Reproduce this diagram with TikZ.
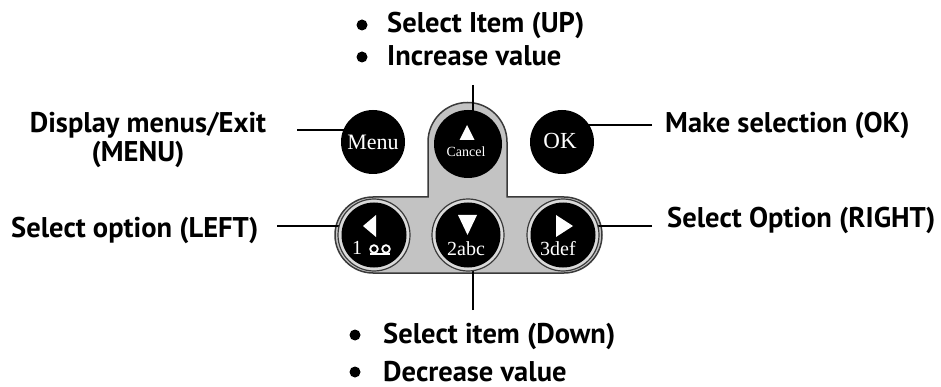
\documentclass[tikz,border=0pt]{standalone}
\usepackage{fontspec}
\setmainfont{PT Sans}
\newfontfamily\btnfont{Liberation Serif}
\definecolor{padgray}{HTML}{C3C3C3}
\definecolor{padedge}{HTML}{3A3A3A}
\definecolor{ringgray}{HTML}{DADADA}
\begin{document}
\begin{tikzpicture}[x=1pt,y=-1pt,
  lbl/.style={font=\fontsize{28.5}{28.5}\selectfont\bfseries, inner sep=0pt},
  conn/.style={line width=2.6pt, black},
  knob/.style={circle, fill=black, inner sep=0pt, minimum size=#1},
  ringk/.style={circle, fill=ringgray, draw=padedge, line width=1.2pt, inner sep=0pt, minimum size=72pt},
  bul/.style={circle, fill=black, inner sep=0pt, minimum size=11pt},
  btn/.style={text=white, font=\btnfont\fontsize{#1}{#1}\selectfont, inner sep=0pt},
]
\useasboundingbox (0,0) rectangle (941,387);

% keypad base
\draw[fill=padgray, draw=padedge, line width=1.5pt]
  (428,197) -- (428,142) arc[start angle=180, end angle=360, radius=39.5]
  -- (507,197) -- (564,197) arc[start angle=-90, end angle=90, radius=38]
  -- (373,273) arc[start angle=90, end angle=270, radius=38] -- cycle;

% centres
\coordinate (cMenu) at (373,142);
\coordinate (cCancel) at (468,144);
\coordinate (cOK) at (562,142);
\coordinate (cLeft) at (374,235);
\coordinate (cDown) at (468,235);
\coordinate (cRight) at (563,235);

% connector ends
\coordinate (mL) at (297,130);
\coordinate (lL) at (277,226);
\coordinate (oR) at (652,125);
\coordinate (rR) at (652,226);
\coordinate (uT) at (473,85);
\coordinate (dB) at (473,310);

\draw[conn] (mL) -- (mL -| cMenu);
\draw[conn] (lL) -- (lL -| cLeft);
\draw[conn] (oR) -- (oR -| cOK);
\draw[conn] (rR) -- (rR -| cRight);
\draw[conn] (uT) -- (uT |- cCancel);
\draw[conn] (dB) -- (dB |- cDown);

% buttons
\node[knob=64pt] (menu) at (cMenu) {};
\node[knob=68pt] (cancel) at (cCancel) {};
\node[knob=64pt] (ok) at (cOK) {};
\node[ringk] (leftR) at (cLeft) {};
\node[ringk] (downR) at (cDown) {};
\node[ringk] (rightR) at (cRight) {};
\node[knob=65pt] (left) at (cLeft) {};
\node[knob=65pt] (down) at (cDown) {};
\node[knob=65pt] (right) at (cRight) {};

% button faces
\node[btn=22] (tMenu) at (373,142) {Menu};
\node[btn=23] (tOK) at (560,141) {OK};
\node[btn=14] (tCancel) at (466,152) {Cancel};
\fill[white] (467,125) -- (474.5,140) -- (459.5,140) -- cycle;
\fill[white] (363,226) -- (376,215) -- (376,237) -- cycle;
\fill[white] (458,215) -- (477,215) -- (467.5,235) -- cycle;
\fill[white] (573,226) -- (556,215) -- (556,237) -- cycle;
\node[btn=20] (t1) at (357,248) {1};
\draw[white, line width=1.8pt] (374,249) circle[radius=3.8] (386,249) circle[radius=3.8];
\draw[white, line width=1.8pt] (370,254) -- (390,254);
\node[btn=20] (t2) at (466,249) {2abc};
\node[btn=20] (t3) at (558,249) {3def};

% labels
\node[bul] (b1) at (362,25) {};
\node[lbl, anchor=base west] (up1) at (387,33) {Select Item (UP)};
\node[bul] (b2) at (362,57) {};
\node[lbl, anchor=base west] (up2) at (387,66) {Increase value};

\node[bul] (b3) at (355,335) {};
\node[lbl, anchor=base west] (dn1) at (383,343) {Select item (Down)};
\node[bul] (b4) at (355,372) {};
\node[lbl, anchor=base west] (dn2) at (383,381) {Decrease value};

\node[lbl, anchor=base] (menuL1) at (148,133) {Display menus/Exit};
\node[lbl, anchor=base] (menuL2) at (138,162) {(MENU)};
\node[lbl, anchor=base west] (leftL) at (11,237) {Select option (LEFT)};
\node[lbl, anchor=base west] (okL) at (665,133) {Make selection (OK)};
\node[lbl, anchor=base west] (rightL) at (667,227) {Select Option (RIGHT)};
\end{tikzpicture}
\end{document}
